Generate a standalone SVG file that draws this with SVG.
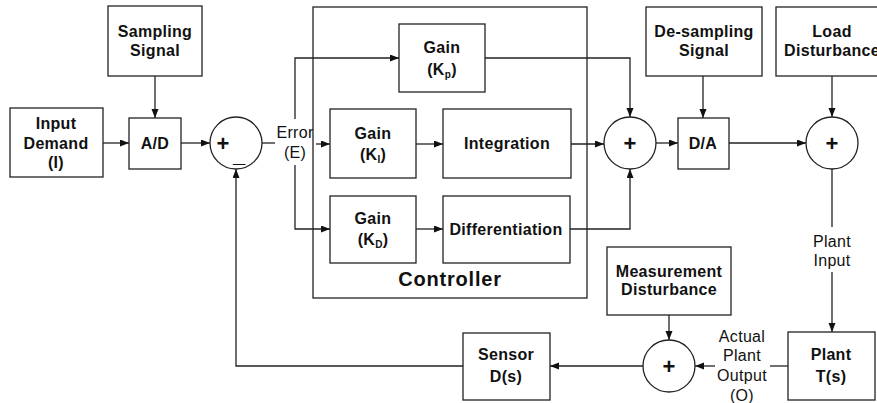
<svg xmlns="http://www.w3.org/2000/svg" width="877" height="403" viewBox="0 0 877 403">
<style>
.box{fill:#fff;stroke:#222;stroke-width:1.3}
.sum{fill:#fff;stroke:#222;stroke-width:1.3}
.ln{fill:none;stroke:#222;stroke-width:1.3}
.b{font-family:"Liberation Sans",Arial,sans-serif;font-weight:bold;font-size:16px;letter-spacing:0.3px;fill:#111;text-anchor:middle}
.r{font-family:"Liberation Sans",Arial,sans-serif;font-size:16px;letter-spacing:0.3px;fill:#111;text-anchor:middle}
.pl{font-family:"Liberation Sans",Arial,sans-serif;font-weight:bold;font-size:22px;fill:#111;text-anchor:middle}
.sub{font-size:10px}
</style>
<defs>
<marker id="ah" markerUnits="userSpaceOnUse" markerWidth="10" markerHeight="8" refX="9" refY="3.5" orient="auto">
<path d="M0,0 L9,3.5 L0,7 z" fill="#111"/>
</marker>
</defs>
<rect width="877" height="403" fill="#fff"/>

<g id="controller">
<rect x="313" y="7" width="274" height="291" fill="none" stroke="#222" stroke-width="1.3"/>
<text x="450" y="286" class="b" style="font-size:20px;letter-spacing:0.8px">Controller</text>
</g>

<g id="connectors">
<line class="ln" x1="155" y1="76" x2="155" y2="118" marker-end="url(#ah)"/>
<line class="ln" x1="103" y1="143" x2="129" y2="143" marker-end="url(#ah)"/>
<line class="ln" x1="181" y1="143" x2="210" y2="143" marker-end="url(#ah)"/>
<line class="ln" x1="262" y1="143" x2="275" y2="143"/>
<polyline class="ln" points="295,119 295,58 399,58" marker-end="url(#ah)"/>
<polyline class="ln" points="295,165 295,229 330,229" marker-end="url(#ah)"/>
<line class="ln" x1="316" y1="144" x2="330" y2="144" marker-end="url(#ah)"/>
<line class="ln" x1="416" y1="144" x2="443" y2="144" marker-end="url(#ah)"/>
<line class="ln" x1="416" y1="229" x2="443" y2="229" marker-end="url(#ah)"/>
<line class="ln" x1="571" y1="144" x2="604" y2="144" marker-end="url(#ah)"/>
<polyline class="ln" points="485,58 630,58 630,117" marker-end="url(#ah)"/>
<polyline class="ln" points="563,229 630,229 630,169" marker-end="url(#ah)"/>
<line class="ln" x1="656" y1="143" x2="678" y2="143" marker-end="url(#ah)"/>
<line class="ln" x1="703" y1="76" x2="703" y2="118" marker-end="url(#ah)"/>
<line class="ln" x1="716" y1="143" x2="806" y2="143" marker-end="url(#ah)"/>
<line class="ln" x1="832" y1="76" x2="832" y2="117" marker-end="url(#ah)"/>
<line class="ln" x1="832" y1="169" x2="832" y2="227"/>
<line class="ln" x1="832" y1="272" x2="832" y2="332" marker-end="url(#ah)"/>
<line class="ln" x1="669" y1="315" x2="669" y2="340" marker-end="url(#ah)"/>
<line class="ln" x1="788" y1="366" x2="770" y2="366"/>
<line class="ln" x1="715" y1="366" x2="695" y2="366" marker-end="url(#ah)"/>
<line class="ln" x1="643" y1="366" x2="550" y2="366" marker-end="url(#ah)"/>
<polyline class="ln" points="463,366 236,366 236,169" marker-end="url(#ah)"/>
</g>

<g id="sampling"><rect class="box" x="108" y="6" width="94" height="70"/>
<text class="b" x="155" y="37">Sampling</text><text class="b" x="155" y="56">Signal</text></g>

<g id="input"><rect class="box" x="10" y="108" width="93" height="69"/>
<text class="b" x="56" y="129">Input</text><text class="b" x="56" y="149">Demand</text><text class="b" x="56" y="168">(I)</text></g>

<g id="ad"><rect class="box" x="129" y="118" width="52" height="51"/>
<text class="b" x="155" y="149">A/D</text></g>

<g id="sum1"><circle class="sum" cx="236" cy="143" r="26"/>
<text class="pl" x="223" y="151">+</text>
<text class="pl" x="239" y="162">_</text></g>

<g id="error"><text class="r" x="295" y="138">Error</text><text class="r" x="295" y="158">(E)</text></g>

<g id="gainp"><rect class="box" x="399" y="24" width="86" height="68"/>
<text class="b" x="442" y="53">Gain</text><text class="b" x="442" y="75">(K<tspan class="sub" dy="3">p</tspan><tspan dy="-3">)</tspan></text></g>

<g id="gaini"><rect class="box" x="330" y="109" width="86" height="69"/>
<text class="b" x="373" y="139">Gain</text><text class="b" x="373" y="160">(K<tspan class="sub" dy="3">I</tspan><tspan dy="-3">)</tspan></text></g>

<g id="integration"><rect class="box" x="443" y="109" width="128" height="69"/>
<text class="b" x="507" y="149">Integration</text></g>

<g id="gaind"><rect class="box" x="330" y="196" width="86" height="67"/>
<text class="b" x="373" y="224">Gain</text><text class="b" x="373" y="245">(K<tspan class="sub" dy="3">D</tspan><tspan dy="-3">)</tspan></text></g>

<g id="differentiation"><rect class="box" x="443" y="196" width="127" height="67"/>
<text class="b" x="506" y="235">Differentiation</text></g>

<g id="sum2"><circle class="sum" cx="630" cy="143" r="26"/>
<text class="pl" x="630" y="151">+</text></g>

<g id="desampling"><rect class="box" x="646" y="7" width="116" height="69"/>
<text class="b" x="704" y="37">De-sampling</text><text class="b" x="704" y="56">Signal</text></g>

<g id="da"><rect class="box" x="678" y="118" width="51" height="51"/>
<text class="b" x="703" y="149">D/A</text></g>

<g id="load"><rect class="box" x="776" y="7" width="110" height="69"/>
<text class="b" x="832" y="37">Load</text><text class="b" x="832" y="56">Disturbance</text></g>

<g id="sum3"><circle class="sum" cx="832" cy="143" r="26"/>
<text class="pl" x="832" y="151">+</text></g>

<g id="plantinput"><text class="r" x="832" y="247">Plant</text><text class="r" x="832" y="266">Input</text></g>

<g id="plant"><rect class="box" x="788" y="332" width="87" height="68"/>
<text class="b" x="831" y="360">Plant</text><text class="b" x="831" y="382">T(s)</text></g>

<g id="measurement"><rect class="box" x="607" y="247" width="124" height="68"/>
<text class="b" x="669" y="277">Measurement</text><text class="b" x="669" y="295">Disturbance</text></g>

<g id="sum4"><circle class="sum" cx="669" cy="366" r="26"/>
<text class="pl" x="669" y="374">+</text></g>

<g id="actual"><text class="r" x="742" y="342">Actual</text><text class="r" x="742" y="361">Plant</text><text class="r" x="742" y="381">Output</text><text class="r" x="742" y="401">(O)</text></g>

<g id="sensor"><rect class="box" x="463" y="333" width="87" height="67"/>
<text class="b" x="506" y="360">Sensor</text><text class="b" x="506" y="382">D(s)</text></g>
</svg>
